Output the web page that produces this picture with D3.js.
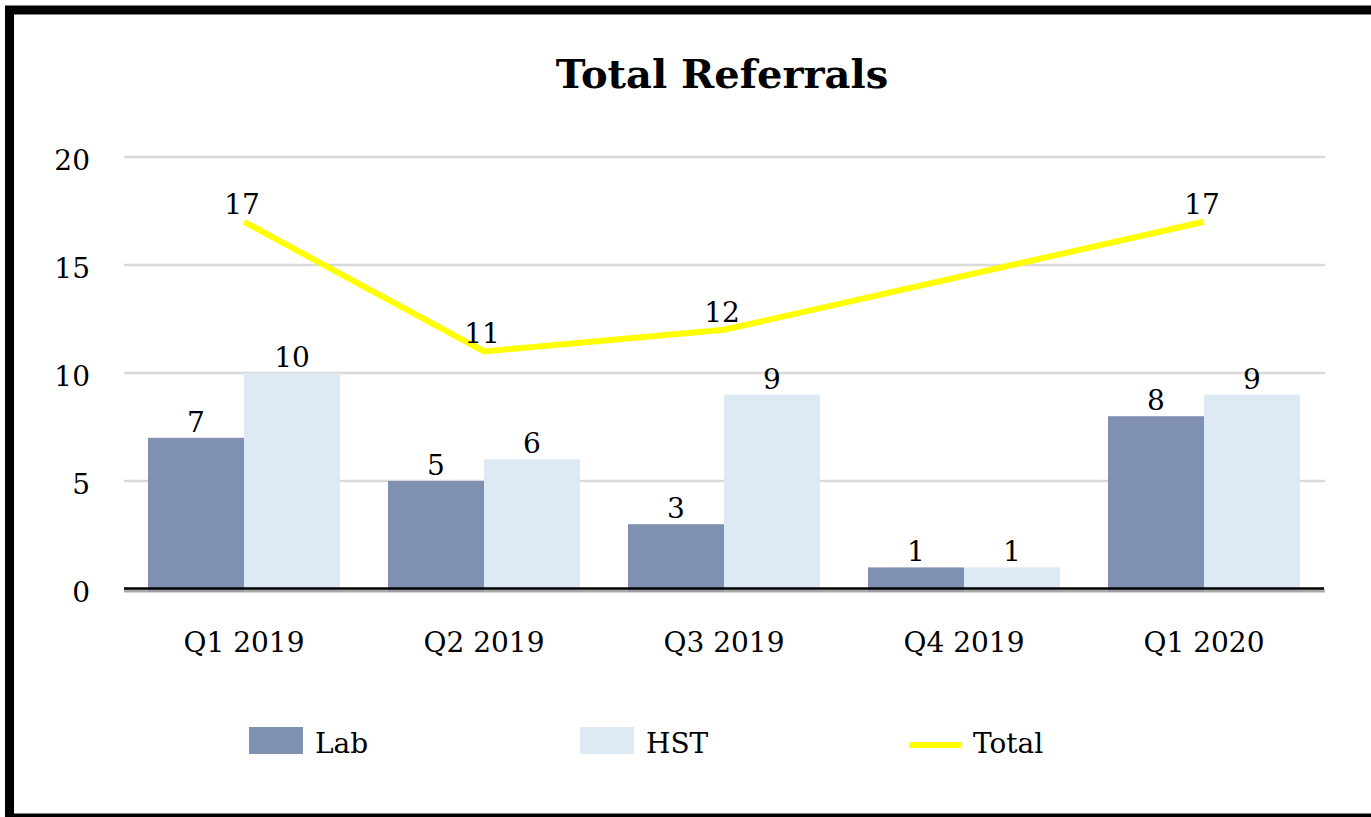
<!DOCTYPE html>
<html>
<head>
<meta charset="utf-8">
<style>
body { margin: 0; background: #fff; }
text { font-family: "DejaVu Serif", serif; fill: #000; }
.grid line { stroke: #d9d9d9; stroke-width: 2.3px; }
</style>
</head>
<body>
<script src="https://cdn.jsdelivr.net/npm/d3@7/dist/d3.min.js"></script>
<script>

var quarters = ["Q1 2019", "Q2 2019", "Q3 2019", "Q4 2019", "Q1 2020"];
var lab = [7, 5, 3, 1, 8];
var hst = [10, 6, 9, 1, 9];
// Q4 2019 has no total point: the line just spans the gap
var total = [17, 11, 12, null, 17];
var yTicks = [0, 5, 10, 15, 20];

var width = 1371, height = 817;
var plotLeft = 124, plotRight = 1324, plotTop = 157, plotBottom = 589;

var svg = d3.select("body").append("svg")
    .attr("width", width)
    .attr("height", height);

// frame
svg.append("rect")
    .attr("x", 9.5).attr("y", 10)
    .attr("width", 1420).attr("height", 808)
    .attr("fill", "#fff")
    .attr("stroke", "#000")
    .attr("stroke-width", 9);

var x = d3.scaleBand()
    .domain(quarters)
    .range([plotLeft, plotRight])
    .paddingInner(0.2)
    .paddingOuter(0.1);

// plain band for category centers
var xc = d3.scaleBand().domain(quarters).range([plotLeft, plotRight]);

var sub = d3.scaleBand()
    .domain(["Lab", "HST"])
    .range([0, x.bandwidth()]);

var y = d3.scaleLinear()
    .domain([0, 20])
    .range([plotBottom, plotTop]);

svg.append("text")
    .attr("x", 722)
    .attr("y", 88)
    .attr("text-anchor", "middle")
    .style("font-size", "40px")
    .style("font-weight", "bold")
    .text("Total Referrals");

// gridlines
svg.append("g")
    .attr("class", "grid")
    .selectAll("line")
    .data(yTicks.filter(function(d) { return d > 0; }))
    .enter().append("line")
    .attr("x1", plotLeft).attr("x2", plotRight + 1)
    .attr("y1", function(d) { return y(d); })
    .attr("y2", function(d) { return y(d); });

// y axis labels
svg.append("g")
    .selectAll("text")
    .data(yTicks)
    .enter().append("text")
    .attr("x", 90)
    .attr("y", function(d) { return y(d) + 13; })
    .attr("text-anchor", "end")
    .style("font-size", "28px")
    .text(function(d) { return d; });

// bars
var groups = svg.append("g")
    .selectAll("g")
    .data(quarters)
    .enter().append("g")
    .attr("transform", function(d) { return "translate(" + x(d) + ",0)"; });

groups.append("rect")
    .attr("x", sub("Lab"))
    .attr("width", sub.bandwidth())
    .attr("y", function(d, i) { return y(lab[i]); })
    .attr("height", function(d, i) { return y(0) - y(lab[i]) + 3; })
    .attr("fill", "#7f90b0");

groups.append("rect")
    .attr("x", sub("HST"))
    .attr("width", sub.bandwidth())
    .attr("y", function(d, i) { return y(hst[i]); })
    .attr("height", function(d, i) { return y(0) - y(hst[i]) + 2; })
    .attr("fill", "#dde9f5");

groups.append("text")
    .attr("x", sub("Lab") + sub.bandwidth() / 2)
    .attr("y", function(d, i) { return y(lab[i]) - 6; })
    .attr("text-anchor", "middle")
    .style("font-size", "28px")
    .text(function(d, i) { return lab[i]; });

groups.append("text")
    .attr("x", sub("HST") + sub.bandwidth() / 2)
    .attr("y", function(d, i) { return y(hst[i]) - 6; })
    .attr("text-anchor", "middle")
    .style("font-size", "28px")
    .text(function(d, i) { return hst[i]; });

// baseline
svg.append("line")
    .attr("x1", plotLeft).attr("x2", plotRight + 1)
    .attr("y1", y(0) + 2).attr("y2", y(0) + 2)
    .attr("stroke", "#a0a0a0")
    .attr("stroke-opacity", 0.9)
    .attr("stroke-width", 3);
svg.append("line")
    .attr("x1", plotLeft).attr("x2", plotRight)
    .attr("y1", y(0) - 0.5).attr("y2", y(0) - 0.5)
    .attr("stroke", "#000")
    .attr("stroke-width", 2.5);

// x labels
svg.append("g")
    .selectAll("text")
    .data(quarters)
    .enter().append("text")
    .attr("x", function(d) { return xc(d) + xc.bandwidth() / 2; })
    .attr("y", 652)
    .attr("text-anchor", "middle")
    .style("font-size", "28px")
    .text(function(d) { return d; });

// total line
var points = quarters.map(function(q, i) { return {q: q, v: total[i]}; })
    .filter(function(d) { return d.v !== null; });

var line = d3.line()
    .x(function(d) { return xc(d.q) + xc.bandwidth() / 2; })
    .y(function(d) { return y(d.v); });

svg.append("path")
    .datum(points)
    .attr("d", line)
    .attr("fill", "none")
    .attr("stroke", "#ffff00")
    .attr("stroke-width", 6);

svg.append("g")
    .selectAll("text")
    .data(points)
    .enter().append("text")
    .attr("x", function(d) { return xc(d.q) + xc.bandwidth() / 2 - 2; })
    .attr("y", function(d) { return y(d.v) - 8; })
    .attr("text-anchor", "middle")
    .style("font-size", "28px")
    .text(function(d) { return d.v; });

// legend
var legend = svg.append("g");
legend.append("rect").attr("x", 249).attr("y", 727).attr("width", 54).attr("height", 27).attr("fill", "#7f90b0");
legend.append("text").attr("x", 315).attr("y", 753).style("font-size", "28px").text("Lab");
legend.append("rect").attr("x", 580).attr("y", 727).attr("width", 54).attr("height", 27).attr("fill", "#dde9f5");
legend.append("text").attr("x", 646).attr("y", 753).style("font-size", "28px").text("HST");
legend.append("line").attr("x1", 909).attr("x2", 961).attr("y1", 745).attr("y2", 745)
    .attr("stroke", "#ffff00").attr("stroke-width", 6);
legend.append("text").attr("x", 973).attr("y", 753).style("font-size", "28px").text("Total");

</script>
</body>
</html>
